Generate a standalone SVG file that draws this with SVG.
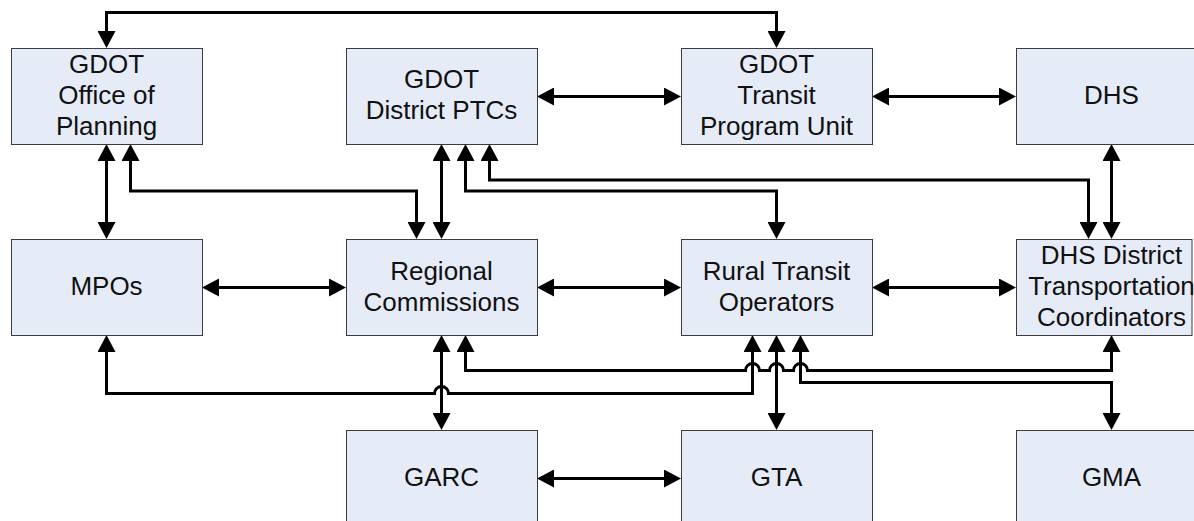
<svg xmlns="http://www.w3.org/2000/svg" width="1194" height="521" viewBox="0 0 1194 521">
<style>
.box{fill:#E6ECF7;stroke:#3C3C3C;stroke-width:1}
.t{font-family:"Liberation Sans",Arial,sans-serif;font-size:26px;fill:#111;text-anchor:middle}
.c{fill:none;stroke:#000;stroke-width:3;marker-start:url(#a);marker-end:url(#a)}
.c1{fill:none;stroke:#000;stroke-width:3;marker-end:url(#a)}
</style>
<defs>
<marker id="a" viewBox="0 0 17 18" refX="9" refY="9" markerWidth="17" markerHeight="18" markerUnits="userSpaceOnUse" orient="auto-start-reverse">
<path d="M0,0 L17,9 L0,18 z" fill="#000"/>
</marker>
</defs>
<rect width="1194" height="521" fill="#fff"/>
<g id="connectors">
<path class="c" d="M106.5,40 V12.5 H776.5 V40"/>
<path class="c" d="M106.5,152 V231"/>
<path class="c" d="M130.5,152 V191 H416.5 V231"/>
<path class="c" d="M441.5,152 V231"/>
<path class="c" d="M465.5,152 V191 H776.5 V231"/>
<path class="c" d="M489.5,152 V180 H1088.5 V231"/>
<path class="c" d="M1111.5,152 V231"/>
<path class="c" d="M545,96.5 H673"/>
<path class="c" d="M880,96.5 H1008"/>
<path class="c" d="M210,287.5 H338"/>
<path class="c" d="M545,287.5 H673"/>
<path class="c" d="M880,287.5 H1008"/>
<path class="c" d="M545,478.5 H673"/>
<path class="c" d="M441.5,343 V422"/>
<path class="c" d="M776.5,343 V422"/>
<path class="c" d="M106.5,343 V393.5 H434.5 A7,7 0 0 1 448.5,393.5 H752.5 V343"/>
<path class="c" d="M465.5,343 V370.5 H745.5 A7,7 0 0 1 759.5,370.5 H769.5 A7,7 0 0 1 783.5,370.5 H793.5 A7,7 0 0 1 807.5,370.5 H1111.5 V343"/>
<path class="c" d="M800.5,343 V382.5 H1111.5 V422"/>
</g>
<g id="gdot-office-of-planning">
<rect class="box" x="11.5" y="48.5" width="191" height="96"/>
<text class="t" x="106.5" y="72.5">GDOT</text>
<text class="t" x="106.5" y="103.5">Office of</text>
<text class="t" x="106.5" y="134.5">Planning</text>
</g>
<g id="gdot-district-ptcs">
<rect class="box" x="346.5" y="48.5" width="191" height="96"/>
<text class="t" x="441.5" y="88">GDOT</text>
<text class="t" x="441.5" y="119">District PTCs</text>
</g>
<g id="gdot-transit-program-unit">
<rect class="box" x="681.5" y="48.5" width="191" height="96"/>
<text class="t" x="776.5" y="72.5">GDOT</text>
<text class="t" x="776.5" y="103.5">Transit</text>
<text class="t" x="776.5" y="134.5">Program Unit</text>
</g>
<g id="dhs">
<rect class="box" x="1016.5" y="48.5" width="191" height="96"/>
<text class="t" x="1111.5" y="103.5">DHS</text>
</g>
<g id="mpos">
<rect class="box" x="11.5" y="239.5" width="191" height="96"/>
<text class="t" x="106.5" y="294.5">MPOs</text>
</g>
<g id="regional-commissions">
<rect class="box" x="346.5" y="239.5" width="191" height="96"/>
<text class="t" x="441.5" y="279.5">Regional</text>
<text class="t" x="441.5" y="310.5">Commissions</text>
</g>
<g id="rural-transit-operators">
<rect class="box" x="681.5" y="239.5" width="191" height="96"/>
<text class="t" x="776.5" y="279.5">Rural Transit</text>
<text class="t" x="776.5" y="310.5">Operators</text>
</g>
<g id="dhs-district-transportation-coordinators">
<rect class="box" x="1016.5" y="239.5" width="175.5" height="96"/>
<text class="t" x="1111.5" y="263.5">DHS District</text>
<text class="t" x="1111.5" y="294.5">Transportation</text>
<text class="t" x="1111.5" y="325.5">Coordinators</text>
</g>
<g id="garc">
<rect class="box" x="346.5" y="430.5" width="191" height="96"/>
<text class="t" x="441.5" y="485.5">GARC</text>
</g>
<g id="gta">
<rect class="box" x="681.5" y="430.5" width="191" height="96"/>
<text class="t" x="776.5" y="485.5">GTA</text>
</g>
<g id="gma">
<rect class="box" x="1016.5" y="430.5" width="191" height="96"/>
<text class="t" x="1111.5" y="485.5">GMA</text>
</g>
</svg>
